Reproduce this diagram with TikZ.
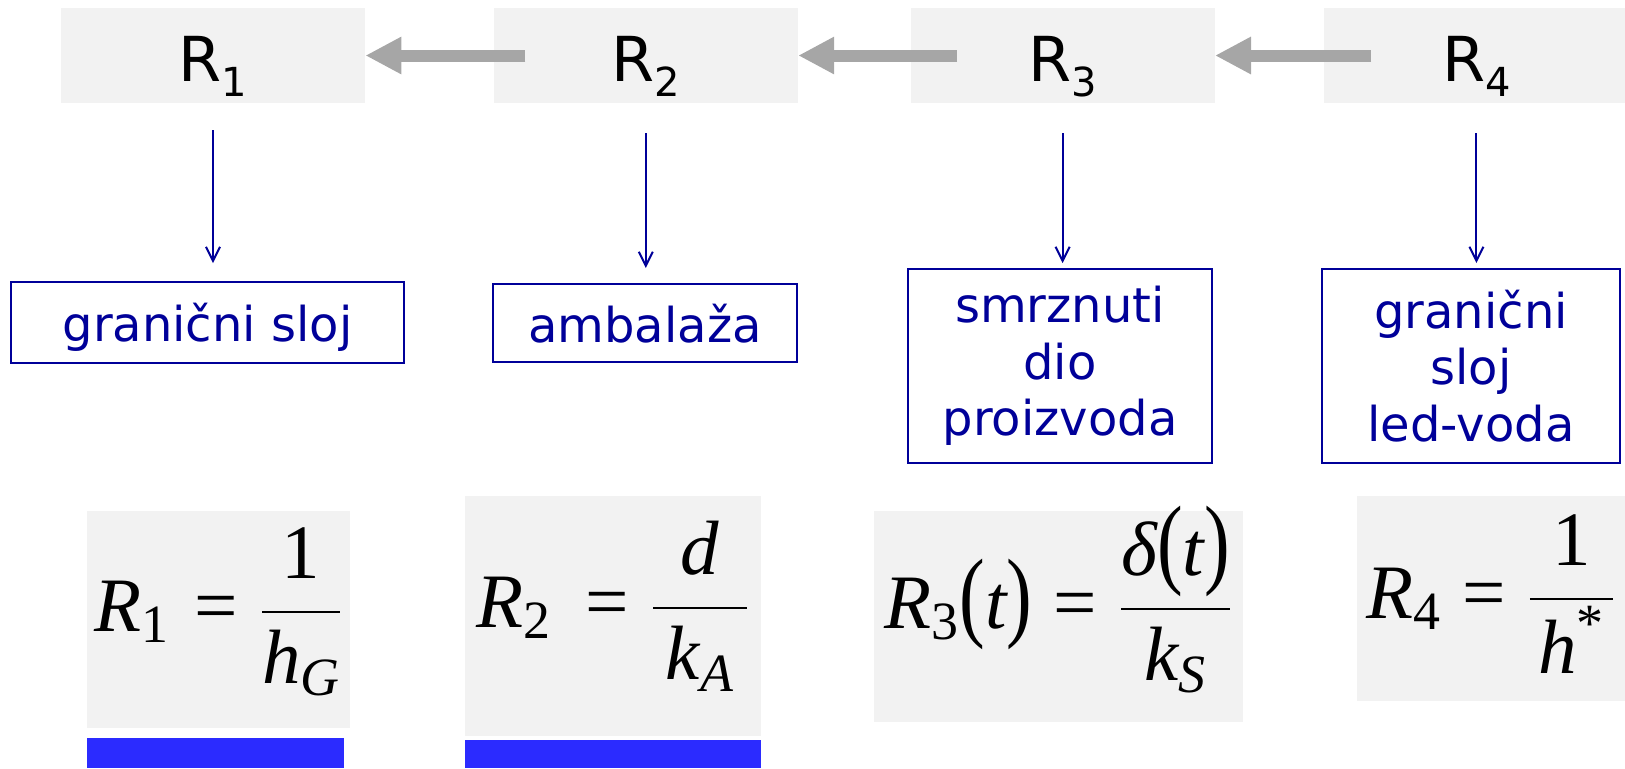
\documentclass[tikz,border=0pt]{standalone}
\usepackage{fix-cm}
\usepackage{amsmath}
\usepackage{graphicx}
\usepackage{fontspec}
\setmainfont{DejaVu Sans}
\newfontfamily\tnr{Liberation Serif}
\usetikzlibrary{arrows.meta, positioning}
\definecolor{boxgray}{RGB}{242,242,242}
\definecolor{arrgray}{RGB}{166,166,166}
\definecolor{labelblue}{RGB}{0,0,153}
\definecolor{barblue}{RGB}{43,43,255}
\newcommand\rlab[1]{R\raisebox{-7.5pt}{\fontsize{20}{20}\selectfont #1}}
\newcommand\mi[1]{\text{\tnr\itshape #1}}
\newcommand\mr[1]{\text{\tnr #1}}
\newcommand\bigp[1]{\text{\scalebox{1}[1.3]{\tnr #1}}}

\begin{document}
\begin{tikzpicture}[
    x=0.5pt, y=-0.5pt,
    rbox/.style={rectangle, fill=boxgray, minimum width=152pt, minimum height=47.5pt, inner sep=0pt, font=\fontsize{31}{31}\selectfont, text height=25.5pt, text depth=0pt},
    lbox/.style={rectangle, draw=labelblue, line width=1pt, text=labelblue, inner sep=0pt, align=center, font=\fontsize{24}{28.25}\selectfont},
    formbox/.style={rectangle, fill=boxgray, inner sep=0pt, font=\fontsize{38.5}{46}\selectfont, text depth=0pt},
    bluebar/.style={rectangle, fill=barblue, inner sep=0pt},
    garr/.style={-{Triangle[length=18pt,width=17.5pt]}, arrgray, line width=6pt},
    barr/.style={-{Straight Barb[length=7pt,width=7pt]}, labelblue, line width=1pt},
]
\useasboundingbox (0,0) rectangle (1625,768);

% Resistances
\node[rbox] (r1) at (213,55.5) {\rlab{1}};
\node[rbox, right=64pt of r1] (r2) {\rlab{2}};
\node[rbox, right=56pt of r2] (r3) {\rlab{3}};
\node[rbox, right=54.5pt of r3] (r4) {\rlab{4}};

\draw[garr] ([xshift=16pt]r2.west) -- (r1.east);
\draw[garr] ([xshift=23.5pt]r3.west) -- (r2.east);
\draw[garr] ([xshift=23.5pt]r4.west) -- (r3.east);

% Layers
\node[lbox, minimum width=196.5pt, minimum height=40.5pt, text depth=0pt] (l1) at (207.5,322.5) {granični sloj};
\node[lbox, minimum width=152pt, minimum height=39pt, text depth=0pt] (l2) at (645,323) {ambalaža};
\node[lbox, minimum width=152pt, minimum height=97pt] (l3) at (1060,366) {smrznuti\\dio\\proizvoda};
\node[lbox, minimum width=149pt, minimum height=97pt] (l4) at (1471,366) {granični\\sloj\\led-voda};

\draw[barr, shorten <=13.5pt, shorten >=9pt] (r1.south) -- (r1.south |- l1.north);
\draw[barr, shorten <=15pt, shorten >=7.5pt] (r2.south) -- (r2.south |- l2.north);
\draw[barr, shorten <=15pt, shorten >=2.5pt] (r3.south) -- (r3.south |- l3.north);
\draw[barr, shorten <=15pt, shorten >=2.5pt] (r4.south) -- (r4.south |- l4.north);

% Formulas
\node[formbox, minimum width=131.5pt, minimum height=108.5pt, text height=11.5pt] (f1) at (218.5,619.5)
  {$\mi{R}_{\mr{1}}\mkern1mu\mathrel{\mr{=}}\dfrac{\mr{1}}{\mi{h}_{\mi{G}}}$};
\node[formbox, minimum width=148pt, minimum height=120pt, text height=11pt] (f2) at (613,616)
  {$\mi{R}_{\mr{2}}\mkern3mu\mathrel{\mr{=}}\dfrac{\mi{d}}{\mkern3mu\mi{k}_{\mi{A}}\mkern3mu}$};
\node[formbox, minimum width=184.5pt, minimum height=105.5pt, text height=11.5pt] (f3) at (1058.5,616.5)
  {$\mi{R}_{\mr{3}}\bigp{(}\mi{t}\bigp{)}\mathrel{\mr{=}}\dfrac{\mi{δ}\bigp{(}\mi{t}\bigp{)}}{\mi{k}_{\mi{S}}}$};
\node[formbox, minimum width=134pt, minimum height=102.5pt, text height=19.5pt] (f4) at (1491,598.5)
  {$\mi{R}_{\mr{4}}\mathrel{\mr{=}}\dfrac{\mr{1}}{\mkern2mu\mi{h}^{\mr{*}}\mkern2mu}$};

\node[bluebar, minimum width=128.5pt, minimum height=15pt] (b1) at (215.5,753) {};
\node[bluebar, minimum width=148pt, minimum height=14pt] (b2) at (613,754) {};

\end{tikzpicture}
\end{document}
